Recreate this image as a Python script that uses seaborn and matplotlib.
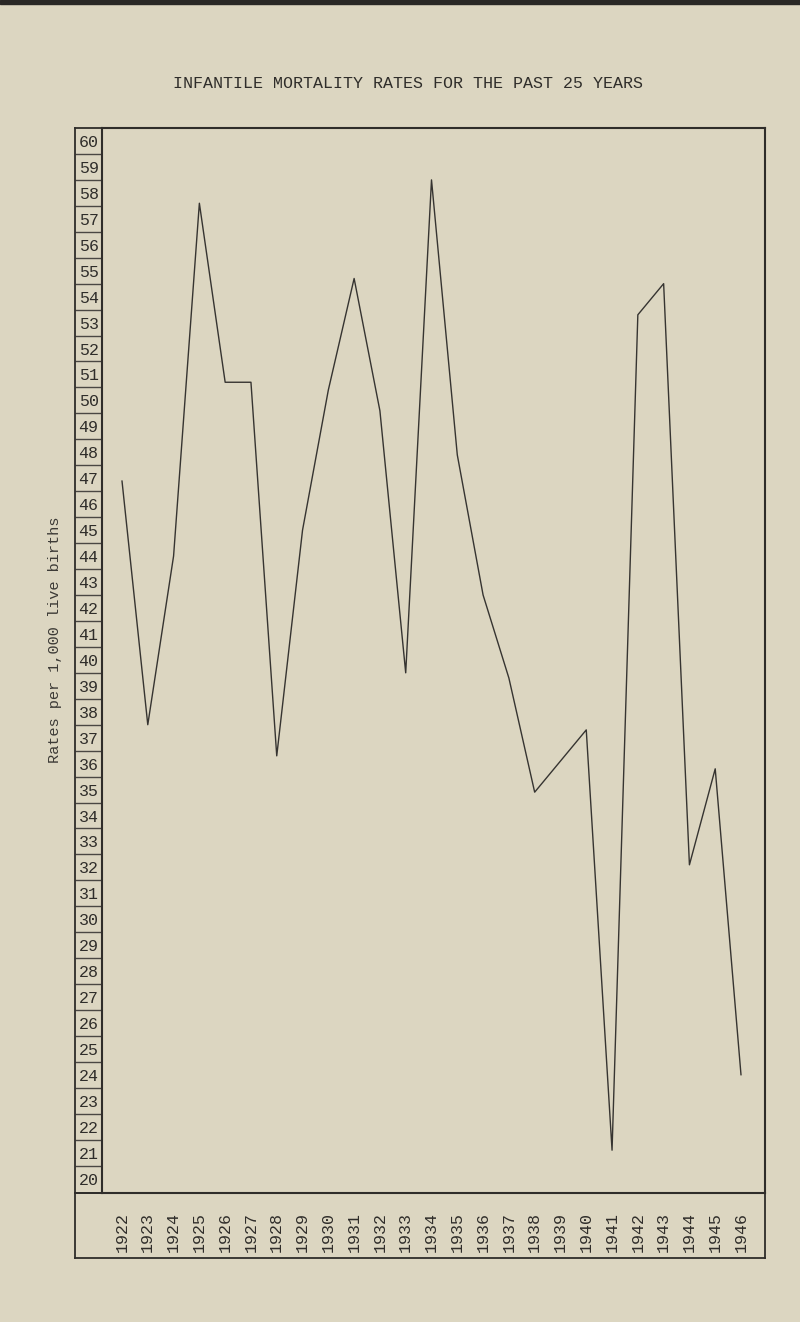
import numpy as np
import pandas as pd
import matplotlib
matplotlib.use("Agg")
import matplotlib.pyplot as plt
from matplotlib.patches import Rectangle
import seaborn as sns

# ---- data ----
years = [1922, 1923, 1924, 1925, 1926, 1927, 1928, 1929, 1930, 1931, 1932, 1933,
         1934, 1935, 1936, 1937, 1938, 1939, 1940, 1941, 1942, 1943, 1944, 1945, 1946]
rates = [46.9, 37.5, 44.0, 57.6, 50.7, 50.7, 36.3, 45.0, 50.4, 54.7, 49.6, 39.5,
         58.5, 47.9, 42.5, 39.3, 34.9, 36.1, 37.3, 21.1, 53.3, 54.5, 32.1, 35.8, 24.0]
year_labels = [str(y) for y in years]
y_ticks = list(range(20, 61))
y_tick_labels = [str(v) for v in y_ticks]
title = "INFANTILE MORTALITY RATES FOR THE PAST 25 YEARS"
y_label = "Rates per 1,000 live births"

df = pd.DataFrame({"year": years, "rate": rates})

# ---- style ----
paper = "#dcd6c1"
ink = "#2f2d2a"
sns.set_style("white")
plt.rcParams["font.family"] = ["Liberation Mono", "DejaVu Sans Mono"]
plt.rcParams["axes.facecolor"] = paper
plt.rcParams["figure.facecolor"] = paper

W, H = 800, 1322
fig = plt.figure(figsize=(W / 100, H / 100), dpi=100)

def fx(px):
    return px / W

def fy(py):
    return 1 - py / H

# main plot area
ax = fig.add_axes([fx(102), fy(1193), fx(765) - fx(102), fy(128) - fy(1193)])
sns.lineplot(data=df, x="year", y="rate", ax=ax, color="#363431", linewidth=1.0)
ax.set_xlim(1921.225, 1946.93)
ax.set_ylim(19.45, 60.5)
ax.set_xlabel("")
ax.set_ylabel("")

ax.set_xticks(years)
ax.set_xticklabels(year_labels, rotation=90, fontsize=12, color=ink)
ax.tick_params(axis="x", length=0, pad=14)

ax.set_yticks(y_ticks)
ax.set_yticklabels(y_tick_labels, fontsize=12, color=ink)
for lab in ax.get_yticklabels():
    lab.set_horizontalalignment("center")
ax.tick_params(axis="y", which="major", left=True, length=0, pad=9.7)
ax.set_yticks(np.arange(20.5, 60.0, 1.0), minor=True)
ax.tick_params(axis="y", which="minor", left=True, direction="out", length=19.4,
               width=1.0, color="#4a4743")

for s in ax.spines.values():
    s.set_visible(True)
    s.set_color(ink)
    s.set_linewidth(1.5)

# label column box
lab_ax = fig.add_axes([fx(75), fy(1193), fx(102) - fx(75), fy(128) - fy(1193)])
lab_ax.set_facecolor("none")
lab_ax.set_xticks([])
lab_ax.set_yticks([])
for s in lab_ax.spines.values():
    s.set_color(ink)
    s.set_linewidth(1.3)

# year label box
yr_ax = fig.add_axes([fx(75), fy(1258), fx(765) - fx(75), fy(1193) - fy(1258)])
yr_ax.set_facecolor("none")
yr_ax.set_xticks([])
yr_ax.set_yticks([])
for s in yr_ax.spines.values():
    s.set_color(ink)
    s.set_linewidth(1.3)

# texts
fig.text(fx(408), fy(83), title, ha="center", va="center", fontsize=12, color=ink)
fig.text(fx(55), fy(640), y_label, rotation=90, ha="center", va="center",
         fontsize=11, color="#3c3a36")

# dark scan edge at top
fig.add_artist(Rectangle((0, fy(4)), 1, fy(0) - fy(4), transform=fig.transFigure,
                         color="#2a2826", zorder=0))

fig.savefig("out.png", dpi=100, facecolor=paper)
